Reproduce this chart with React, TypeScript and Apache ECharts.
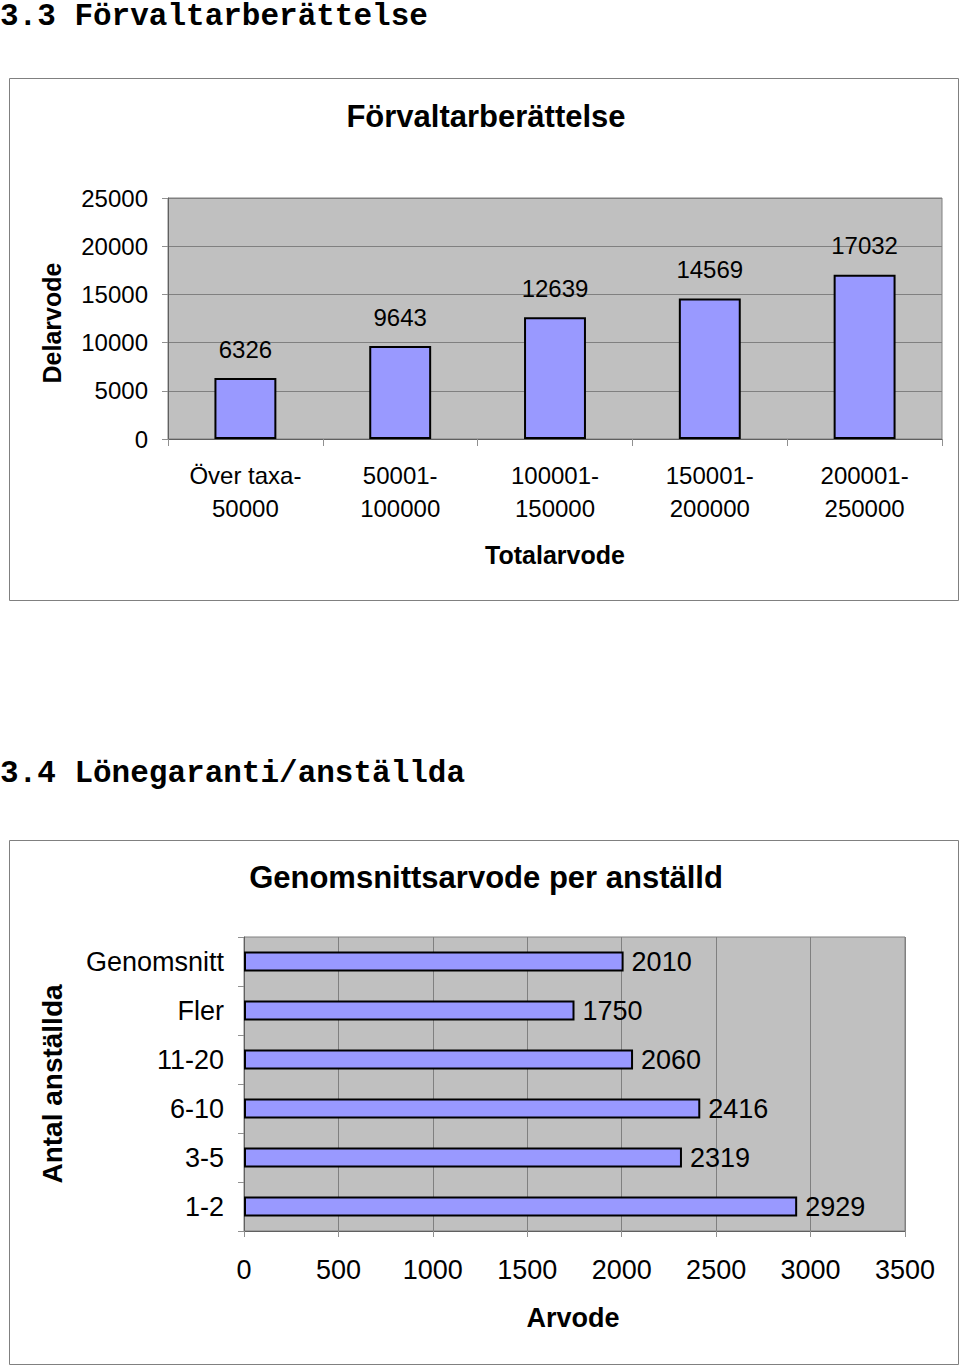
import React, { useEffect, useRef } from "react";
import * as echarts from "echarts";

const topCategories = ["Över taxa-\n50000", "50001-\n100000", "100001-\n150000", "150001-\n200000", "200001-\n250000"];
const topValues = [6326, 9643, 12639, 14569, 17032];
const topMin = 0;
const topMax = 25000;
const topInterval = 5000;

const bottomCategories = ["1-2", "3-5", "6-10", "11-20", "Fler", "Genomsnitt"];
const bottomValues = [2929, 2319, 2416, 2060, 1750, 2010];
const bottomMin = 0;
const bottomMax = 3500;
const bottomInterval = 500;

const FONT = "Liberation Sans";
const MONO = "Liberation Mono";
const BAR_COLOR = "#9999ff";
const PLOT_BG = "#c0c0c0";
const GRID_LINE = "#808080";

const plain = (v: number) => String(v);

export default function App() {
  const ref = useRef<HTMLDivElement>(null);

  useEffect(() => {
    if (!ref.current) return;
    const chart = echarts.init(ref.current, undefined, { renderer: "svg" });
    const option: any = {
      animation: false,
      backgroundColor: "#ffffff",
      textStyle: { fontFamily: FONT, color: "#000" },
      grid: [
        {
          left: 168, top: 198, width: 774, height: 241,
          show: true, backgroundColor: PLOT_BG, borderColor: GRID_LINE, borderWidth: 1,
          containLabel: false,
        },
        {
          left: 244, top: 937, width: 661, height: 294,
          show: true, backgroundColor: PLOT_BG, borderColor: GRID_LINE, borderWidth: 1,
          containLabel: false,
        },
      ],
      xAxis: [
        {
          gridIndex: 0,
          type: "category",
          data: topCategories,
          boundaryGap: true,
          axisLine: { show: true, lineStyle: { color: "#606060", width: 1 } },
          axisTick: { show: true, alignWithLabel: false, length: 7, lineStyle: { color: "#909090" } },
          axisLabel: { fontFamily: FONT, fontSize: 24, color: "#000", margin: 20, lineHeight: 33, interval: 0 },
          splitLine: { show: false },
        },
        {
          gridIndex: 1,
          type: "value",
          min: bottomMin,
          max: bottomMax,
          interval: bottomInterval,
          axisLine: { show: true, lineStyle: { color: "#606060", width: 1 } },
          axisTick: { show: true, length: 6, lineStyle: { color: "#909090" } },
          axisLabel: { fontFamily: FONT, fontSize: 27, color: "#000", margin: 25, formatter: plain },
          splitLine: { show: true, lineStyle: { color: GRID_LINE, width: 1 } },
        },
      ],
      yAxis: [
        {
          gridIndex: 0,
          type: "value",
          min: topMin,
          max: topMax,
          interval: topInterval,
          axisLine: { show: true, lineStyle: { color: "#606060", width: 1 } },
          axisTick: { show: true, length: 6, lineStyle: { color: "#909090" } },
          axisLabel: { fontFamily: FONT, fontSize: 24, color: "#000", margin: 20, formatter: plain },
          splitLine: { show: true, lineStyle: { color: GRID_LINE, width: 1 } },
        },
        {
          gridIndex: 1,
          type: "category",
          data: bottomCategories,
          boundaryGap: true,
          axisLine: { show: true, lineStyle: { color: "#606060", width: 1 } },
          axisTick: { show: true, alignWithLabel: false, length: 6, lineStyle: { color: "#909090" } },
          axisLabel: { fontFamily: FONT, fontSize: 27, color: "#000", margin: 20, interval: 0 },
          splitLine: { show: false },
        },
      ],
      series: [
        {
          type: "bar",
          xAxisIndex: 0,
          yAxisIndex: 0,
          data: topValues,
          barWidth: "40%",
          itemStyle: { color: BAR_COLOR, borderColor: "#000", borderWidth: 2 },
          label: { show: true, position: "top", distance: 17, fontFamily: FONT, fontSize: 24, color: "#000" },
        },
        {
          type: "bar",
          xAxisIndex: 1,
          yAxisIndex: 1,
          data: bottomValues,
          barWidth: "41%",
          itemStyle: { color: BAR_COLOR, borderColor: "#000", borderWidth: 2 },
          label: { show: true, position: "right", distance: 8, fontFamily: FONT, fontSize: 27, color: "#000" },
        },
      ],
      graphic: [
        {
          type: "text", x: 0, y: 16,
          style: { text: "3.3 Förvaltarberättelse", font: `bold 31px "${MONO}"`, fill: "#000", textVerticalAlign: "middle", textAlign: "left" },
        },
        {
          type: "text", x: 0, y: 773,
          style: { text: "3.4 Lönegaranti/anställda", font: `bold 31px "${MONO}"`, fill: "#000", textVerticalAlign: "middle", textAlign: "left" },
        },
        {
          type: "rect", shape: { x: 9.5, y: 78.5, width: 949, height: 522 },
          style: { fill: "none", stroke: "#808080", lineWidth: 1 },
        },
        {
          type: "rect", shape: { x: 9.5, y: 840.5, width: 949, height: 524 },
          style: { fill: "none", stroke: "#808080", lineWidth: 1 },
        },
        {
          type: "text", x: 486, y: 116,
          style: { text: "Förvaltarberättelse", font: `bold 31px "${FONT}"`, fill: "#000", textAlign: "center", textVerticalAlign: "middle" },
        },
        {
          type: "text", x: 486, y: 877,
          style: { text: "Genomsnittsarvode per anställd", font: `bold 31px "${FONT}"`, fill: "#000", textAlign: "center", textVerticalAlign: "middle" },
        },
        {
          type: "text", x: 555, y: 555,
          style: { text: "Totalarvode", font: `bold 25px "${FONT}"`, fill: "#000", textAlign: "center", textVerticalAlign: "middle" },
        },
        {
          type: "text", x: 573, y: 1318,
          style: { text: "Arvode", font: `bold 27px "${FONT}"`, fill: "#000", textAlign: "center", textVerticalAlign: "middle" },
        },
        {
          type: "text", x: 52, y: 323, rotation: Math.PI / 2,
          style: { text: "Delarvode", font: `bold 25px "${FONT}"`, fill: "#000", textAlign: "center", textVerticalAlign: "middle" },
        },
        {
          type: "text", x: 52, y: 1084, rotation: Math.PI / 2,
          style: { text: "Antal anställda", font: `bold 28px "${FONT}"`, fill: "#000", textAlign: "center", textVerticalAlign: "middle" },
        },
      ],
    };
    chart.setOption(option);
    return () => chart.dispose();
  }, []);

  return (
    <div
      ref={ref}
      style={{ position: "absolute", left: 0, top: 0, width: 960, height: 1369 }}
    />
  );
}
